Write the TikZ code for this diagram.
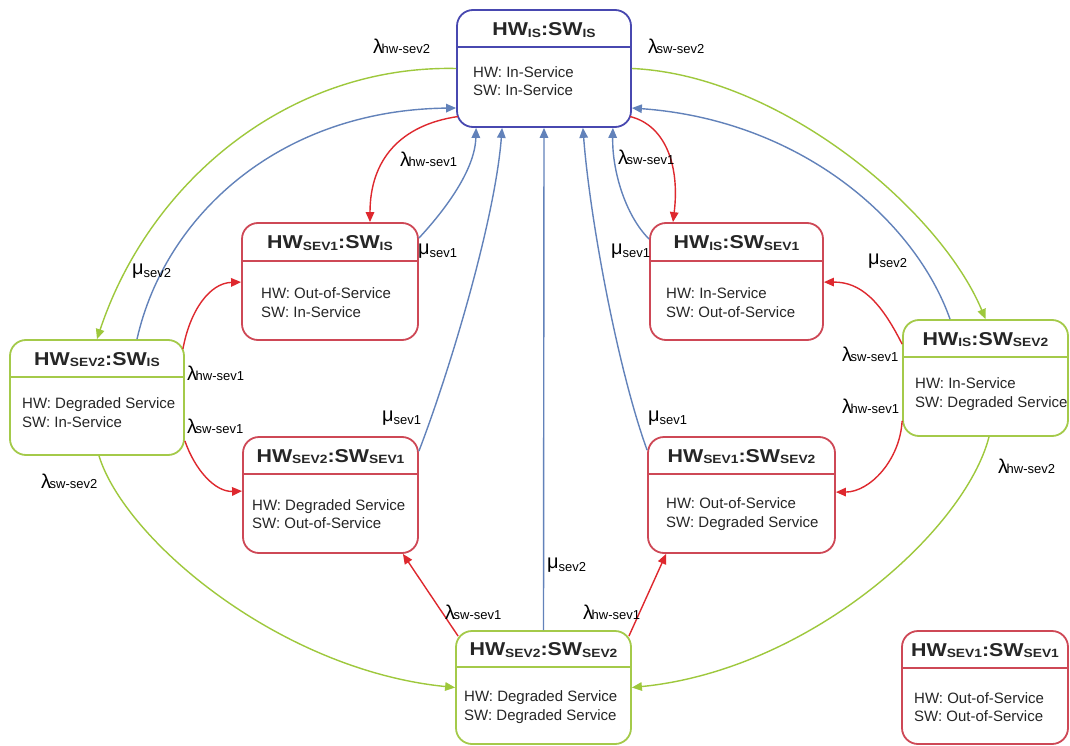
\documentclass[tikz,border=0pt]{standalone}
\usepackage{fontspec}
\setmainfont{Liberation Sans}
\newfontfamily\titlefont[FakeStretch=1.15]{Liberation Sans}
\usetikzlibrary{arrows.meta}
\definecolor{boxblue}{RGB}{72,72,176}
\definecolor{boxred}{RGB}{206,72,86}
\definecolor{boxgreen}{RGB}{164,202,74}
\definecolor{arrred}{RGB}{222,40,46}
\definecolor{arrblue}{RGB}{98,130,186}
\definecolor{arrgreen}{RGB}{158,200,60}
\newcommand\hwsw[2]{{\titlefont\bfseries\fontsize{18.6}{20}\selectfont HW\raisebox{-1.5pt}{\fontsize{12}{12}\selectfont #1}:SW\raisebox{-1.5pt}{\fontsize{12}{12}\selectfont #2}}}
\newcommand\lam[1]{{\fontsize{20}{20}\selectfont λ}\kern-1.5pt{\fontsize{13}{13}\selectfont #1}}
\newcommand\mub[1]{{\fontsize{20}{20}\selectfont μ}\raisebox{-3.5pt}{\fontsize{13}{13}\selectfont #1}}
\begin{document}
\begin{tikzpicture}[x=1pt,y=-1pt,
  every node/.style={inner sep=0pt},
  box/.style={draw=#1, line width=1.8pt, rounded corners=16pt, fill=white},
  sepline/.style={draw=#1, line width=1.6pt},
  ttl/.style={text=black!85},
  body/.style={anchor=west, align=left, font=\fontsize{15}{18.5}\selectfont, text=black!85},
  lab/.style={anchor=base west, text=black},
  conn/.style={line width=1.4pt, -{Triangle[length=10pt,width=8.5pt]}},
  red conn/.style={conn, draw=arrred},
  blue conn/.style={conn, draw=arrblue},
  green conn/.style={conn, draw=arrgreen}]
\fill[white] (0,0) rectangle (1070,746);
\useasboundingbox (0,0) rectangle (1070,746);

% boxes
\node[box=boxblue, minimum width=174pt, minimum height=117pt] (n1) at (544,68.5) {};
\node[box=boxred, minimum width=176pt, minimum height=117pt] (n2) at (330,281.5) {};
\node[box=boxred, minimum width=173pt, minimum height=117pt] (n3) at (736.5,281.5) {};
\node[box=boxgreen, minimum width=174pt, minimum height=115pt] (n4) at (97,397.5) {};
\node[box=boxgreen, minimum width=165pt, minimum height=116pt] (n5) at (985.5,378) {};
\node[box=boxred, minimum width=175pt, minimum height=116pt] (n6) at (330.5,495) {};
\node[box=boxred, minimum width=187pt, minimum height=116pt] (n7) at (741.5,495) {};
\node[box=boxgreen, minimum width=175pt, minimum height=113pt] (n8) at (543.5,687.5) {};
\node[box=boxred, minimum width=166pt, minimum height=113pt] (n9) at (985,687.5) {};

% separators
\draw[sepline=boxblue] ([yshift=-38pt]n1.north west) -- ([yshift=-38pt]n1.north east);
\draw[sepline=boxred] ([yshift=-39pt]n2.north west) -- ([yshift=-39pt]n2.north east);
\draw[sepline=boxred] ([yshift=-39pt]n3.north west) -- ([yshift=-39pt]n3.north east);
\draw[sepline=boxgreen] ([yshift=-38pt]n4.north west) -- ([yshift=-38pt]n4.north east);
\draw[sepline=boxgreen] ([yshift=-38pt]n5.north west) -- ([yshift=-38pt]n5.north east);
\draw[sepline=boxred] ([yshift=-38pt]n6.north west) -- ([yshift=-38pt]n6.north east);
\draw[sepline=boxred] ([yshift=-38pt]n7.north west) -- ([yshift=-38pt]n7.north east);
\draw[sepline=boxgreen] ([yshift=-37pt]n8.north west) -- ([yshift=-37pt]n8.north east);
\draw[sepline=boxred] ([yshift=-38pt]n9.north west) -- ([yshift=-38pt]n9.north east);

% titles
\node[ttl] (t1) at (544,30) {\hwsw{IS}{IS}};
\node[ttl] (t2) at (330,243) {\hwsw{SEV1}{IS}};
\node[ttl] (t3) at (736.5,243) {\hwsw{IS}{SEV1}};
\node[ttl] (t4) at (97,359.5) {\hwsw{SEV2}{IS}};
\node[ttl] (t5) at (985.5,339.5) {\hwsw{IS}{SEV2}};
\node[ttl] (t6) at (330.5,456.5) {\hwsw{SEV2}{SEV1}};
\node[ttl] (t7) at (741.5,456.5) {\hwsw{SEV1}{SEV2}};
\node[ttl] (t8) at (543.5,650) {\hwsw{SEV2}{SEV2}};
\node[ttl] (t9) at (985,650.5) {\hwsw{SEV1}{SEV1}};

% bodies
\node[body] (b1) at (473,81) {HW: In-Service\\SW: In-Service};
\node[body] (b2) at (261,302.5) {HW: Out-of-Service\\SW: In-Service};
\node[body] (b3) at (666,302.5) {HW: In-Service\\SW: Out-of-Service};
\node[body] (b4) at (22,412.5) {HW: Degraded Service\\SW: In-Service};
\node[body] (b5) at (915,394) {HW: In-Service\\SW: Degraded Service};
\node[body] (b6) at (252,514) {HW: Degraded Service\\SW: Out-of-Service};
\node[body] (b7) at (666,514) {HW: Out-of-Service\\SW: Degraded Service};
\node[body] (b8) at (464,707) {HW: Degraded Service\\SW: Degraded Service};
\node[body] (b9) at (914,707) {HW: Out-of-Service\\SW: Out-of-Service};

% green connectors
\draw[green conn] (n1.west) .. controls (290,65) and (150,180) .. (n4.north);
\draw[green conn] (n1.east) .. controls (780,75) and (940,210) .. (n5.north);
\draw[green conn] ([xshift=2pt]n4.south) .. controls (125,540) and (280,670) .. (n8.west);
\draw[green conn] ([xshift=3.5pt]n5.south) .. controls (965,530) and (810,670) .. (n8.east);

% blue connectors
\draw[blue conn] ([xshift=40pt]n4.north) .. controls (165,215) and (280,110) .. ([yshift=-39.5pt]n1.west);
\draw[blue conn] ([xshift=-35.5pt]n5.north) .. controls (915,220) and (800,120) .. ([yshift=-39.5pt]n1.east);
\draw[blue conn] ([yshift=-16pt]n2.north east) .. controls (445,210) and (475,170) .. ([xshift=20pt]n1.south west);
\draw[blue conn] ([yshift=-17pt]n3.north west) .. controls (625,215) and (612,170) .. ([xshift=-19pt]n1.south east);
\draw[blue conn] ([yshift=-15pt]n6.north east) .. controls (450,370) and (495,220) .. ([xshift=46pt]n1.south west);
\draw[blue conn] ([yshift=-14pt]n7.north west) .. controls (618,370) and (590,220) .. ([xshift=-49pt]n1.south east);
\draw[blue conn] (n8.north) -- (n1.south);

% red connectors
\draw[red conn] ([xshift=2pt,yshift=-48pt]n1.west) .. controls (400,125) and (370,160) .. ([xshift=40pt]n2.north);
\draw[red conn] ([xshift=-2pt,yshift=-48pt]n1.east) .. controls (665,125) and (680,165) .. ([xshift=-63.5pt]n3.north);
\draw[red conn] ([xshift=-2pt,yshift=-10pt]n4.north east) .. controls (190,310) and (210,283) .. ([yshift=-60pt]n2.north west);
\draw[red conn] ([yshift=15pt]n4.south east) .. controls (195,470) and (215,492) .. ([yshift=-55pt]n6.north west);
\draw[red conn] ([yshift=-25pt]n5.north west) .. controls (880,300) and (860,282) .. ([yshift=-60pt]n3.north east);
\draw[red conn] ([yshift=16pt]n5.south west) .. controls (900,460) and (870,492) .. ([yshift=-56pt]n7.north east);
\draw[red conn] ([xshift=3pt,yshift=-6pt]n8.north west) -- ([xshift=-16pt]n6.south east);
\draw[red conn] ([xshift=-3pt,yshift=-6pt]n8.north east) -- ([xshift=19pt]n7.south west);

% labels
\node[lab] (l1) at (373,54) {\lam{hw-sev2}};
\node[lab] (l2) at (648,54) {\lam{sw-sev2}};
\node[lab] (l3) at (400,167) {\lam{hw-sev1}};
\node[lab] (l4) at (618,165) {\lam{sw-sev1}};
\node[lab] (l5) at (187,380) {\lam{hw-sev1}};
\node[lab] (l6) at (187,433) {\lam{sw-sev1}};
\node[lab] (l7) at (842,361) {\lam{sw-sev1}};
\node[lab] (l8) at (842,413) {\lam{hw-sev1}};
\node[lab] (l9) at (998,473) {\lam{hw-sev2}};
\node[lab] (l10) at (41,488) {\lam{sw-sev2}};
\node[lab] (l11) at (445,619) {\lam{sw-sev1}};
\node[lab] (l12) at (583,619) {\lam{hw-sev1}};
\node[lab] (m1) at (418,254) {\mub{sev1}};
\node[lab] (m2) at (611,254) {\mub{sev1}};
\node[lab] (m3) at (132,274) {\mub{sev2}};
\node[lab] (m4) at (868,264) {\mub{sev2}};
\node[lab] (m5) at (382,421) {\mub{sev1}};
\node[lab] (m6) at (648,421) {\mub{sev1}};
\node[lab] (m7) at (547,568) {\mub{sev2}};
\end{tikzpicture}
\end{document}
